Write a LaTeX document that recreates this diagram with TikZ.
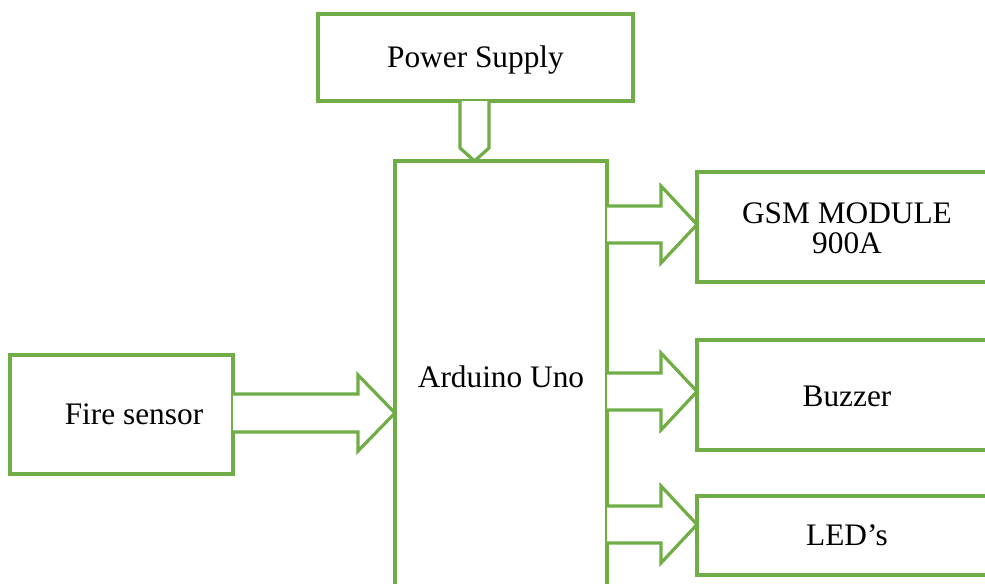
\documentclass[tikz,border=0pt]{standalone}
\usepackage{fontspec}
\setmainfont{Liberation Serif}
\definecolor{grn}{RGB}{112,173,71}
\tikzset{
  box/.style={draw=grn, line width=2.4pt, fill=white},
  blockarrow/.style={draw=grn, line width=2.4pt, line join=miter, fill=white},
  lbl/.style={font=\fontsize{23.5}{22.5}\selectfont, align=center, inner sep=0pt}
}
% right block arrow: #1 start x, #2 head base x, #3 tip x, #4 centre y (px)
\newcommand\myrarrow[4]{%
  \draw[blockarrow] (#1,#4-18.5) -- (#2,#4-18.5) -- (#2,#4-38.5) -- (#3,#4)
    -- (#2,#4+38.5) -- (#2,#4+18.5) -- (#1,#4+18.5);}
\begin{document}
\begin{tikzpicture}[x=0.75pt,y=-0.75pt]
\useasboundingbox (0,0) rectangle (985,583);
\clip (0,0) rectangle (985,583);
% boxes
\draw[box] (318,14) rectangle (633,101);
\coordinate (ps) at (475.5,60);
\draw[box] (395,161) rectangle (607,610);
\coordinate (ard) at (501,377);
\draw[box] (10,355) rectangle (233,474);
\coordinate (fire) at (134,414);
\draw[box] (697,172) rectangle (1010,282);
\coordinate (gsm) at (847,228);
\draw[box] (697,340) rectangle (1010,450);
\coordinate (buz) at (847,396);
\draw[box] (697,496) rectangle (1010,575);
\coordinate (led) at (847,535);
% arrows
\draw[blockarrow] (460,101) -- (460,148) -- (474.5,161) -- (489,148) -- (489,101);
\draw[blockarrow] (233,394) -- (358,394) -- (358,375) -- (395,413) -- (358,451) -- (358,432) -- (233,432);
\myrarrow{607}{661}{697}{224.5}
\myrarrow{607}{661}{697}{391.5}
\myrarrow{607}{661}{697}{524.5}
% labels
\node[lbl] (tps) at (ps) {Power Supply};
\node[lbl] (tard) at (ard) {Arduino Uno};
\node[lbl] (tfire) at (fire) {Fire sensor};
\node[lbl] (tgsm) at (gsm) {GSM MODULE\\900A};
\node[lbl] (tbuz) at (buz) {Buzzer};
\node[lbl] (tled) at (led) {LED’s};
\end{tikzpicture}
\end{document}
